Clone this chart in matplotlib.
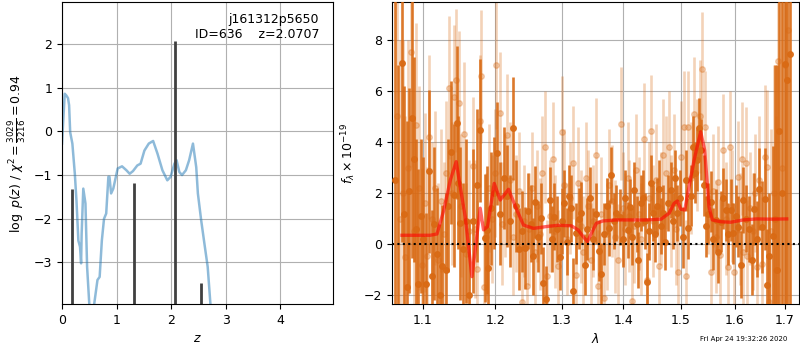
import numpy as np
import matplotlib
matplotlib.use('Agg')
import matplotlib.pyplot as plt
from matplotlib.ticker import FixedLocator, FixedFormatter, NullLocator, NullFormatter

# ---------------- data: redshift PDF ----------------
pz_z = [0.00, 0.05, 0.08, 0.11, 0.13, 0.15, 0.19, 0.235, 0.265, 0.30, 0.33, 0.35, 0.36,
        0.39, 0.43, 0.46, 0.50, 0.545, 0.59, 0.65, 0.69, 0.73, 0.77, 0.81, 0.85, 0.87,
        0.90, 0.94, 1.02, 1.10, 1.18, 1.24, 1.30, 1.38, 1.44, 1.51, 1.59, 1.67, 1.75,
        1.84, 1.93, 1.99, 2.06, 2.10, 2.15, 2.20, 2.27, 2.33, 2.40, 2.46, 2.49, 2.55,
        2.61, 2.67, 2.72, 2.78]
pz_logp = [-0.28, 0.86, 0.82, 0.76, 0.60, -0.02, -0.28, -0.97, -1.58, -2.50, -2.64, -3.02,
           -2.34, -1.31, -1.65, -3.10, -3.95, -4.40, -3.95, -3.40, -3.33, -2.50, -2.00,
           -1.88, -1.04, -1.04, -1.42, -1.31, -0.85, -0.80, -0.89, -0.97, -0.91, -0.78,
           -0.74, -0.44, -0.28, -0.22, -0.51, -0.89, -1.12, -1.04, -0.74, -0.66, -0.93,
           -1.00, -0.89, -0.66, -0.28, -0.82, -1.42, -2.03, -2.57, -3.10, -3.95, -4.60]
spike_z = [0.185, 1.327, 2.068, 2.545]
spike_top = [-1.33, -1.19, 2.06, -3.48]

# ---------------- data: 1D spectrum ----------------
# darker beam
wave_a = [1.0640, 1.0680, 1.0721, 1.0755, 1.0785, 1.0822, 1.0859, 1.0882, 1.0910, 1.0938,
          1.0975, 1.1005,
          1.1034, 1.1074, 1.1114, 1.1150, 1.1190, 1.1227, 1.1258, 1.1303, 1.1340, 1.1371,
          1.1418, 1.1453, 1.1480, 1.1508, 1.1541, 1.1590, 1.1633, 1.1681, 1.1737, 1.1784,
          1.1845, 1.1880, 1.1901, 1.1941, 1.1985, 1.2030, 1.2075, 1.2120, 1.2165, 1.2210,
          1.2256, 1.2300, 1.2345, 1.2390, 1.2440, 1.2485, 1.2525, 1.2559, 1.2594, 1.2635,
          1.2675, 1.2710, 1.2752, 1.2813, 1.2845, 1.2879, 1.2920, 1.2968, 1.3000, 1.3035,
          1.3075, 1.3105, 1.3140, 1.3177, 1.3229, 1.3265, 1.3309, 1.3363, 1.3405, 1.3454,
          1.3500, 1.3545, 1.3590, 1.3627, 1.3680, 1.3720, 1.3763, 1.3791, 1.3835, 1.3876,
          1.3943, 1.3985, 1.4030, 1.4073, 1.4112, 1.4150, 1.4185, 1.4225, 1.4254, 1.4290,
          1.4328, 1.4370, 1.4404, 1.4440, 1.4470, 1.4502, 1.4545, 1.4580, 1.4618, 1.4650,
          1.4678, 1.4720, 1.4770, 1.4818, 1.4860, 1.4900, 1.4937, 1.4985, 1.5045, 1.5089,
          1.5130, 1.5180, 1.5227, 1.5265, 1.5300, 1.5332, 1.5375, 1.5420, 1.5465, 1.5505,
          1.5548, 1.5600, 1.5645, 1.5690, 1.5736, 1.5783, 1.5830, 1.5880, 1.5926, 1.5970,
          1.6020, 1.6072, 1.6120, 1.6169, 1.6230, 1.6287, 1.6335, 1.6380, 1.6430, 1.6485,
          1.6545, 1.6599, 1.6640, 1.6677, 1.6752, 1.6800, 1.6845, 1.6886, 1.6940, 1.7000,
          1.7047, 1.7105]
flux_a = [2.50, -3.00, 7.10, 1.20, -1.68, 2.10, 4.95, 3.32, 0.60, -1.56,
          1.10, 0.20,
          -1.56, 2.85, -1.26, 0.80, -0.40, -2.00, -0.85, -1.00, 1.50, 3.60,
          1.92, 4.76, 2.40, 0.82, -0.20, 0.90, -2.00, 0.91, 2.31, 4.46,
          0.23, 0.56, -0.94, 1.40, 2.00, 3.55, 1.20, 2.60, 1.90, 0.90,
          4.53, 1.50, -0.20, 0.50, -0.16, 1.30, 0.80, -0.48, 1.66, 0.30,
          1.01, -1.52, -2.15, 1.73, 0.20, 1.08, 0.60, -0.50, 0.90, 1.60,
          0.10, 1.90, 1.40, -1.85, 0.43, 1.00, 1.24, -0.80, 0.60, 1.82,
          0.20, 1.20, -0.25, -1.16, 0.40, 1.50, 0.62, 2.70, 0.90, 1.21,
          1.08, 0.20, 1.80, 0.56, 1.47, 0.30, 2.12, 0.80, -0.61, 1.60,
          1.80, 0.90, -1.46, 0.50, 2.40, 1.21, 0.40, 1.50, 2.18, 0.70,
          1.21, 0.10, 1.60, 2.12, 0.90, 2.60, 1.21, 1.80, 0.27, 2.50,
          0.62, 1.90, 3.81, 2.80, 3.29, 4.53, 3.70, 2.30, 0.70, 1.20,
          1.66, 0.20, 0.95, -0.30, 0.88, 1.80, 1.34, 0.40, 1.34, 0.43,
          1.10, 0.69, -0.80, 1.73, 1.00, 0.59, -0.60, 1.37, 0.20, 2.15,
          0.66, 1.76, -1.59, -0.48, 0.33, 1.00, -1.00, 4.42, 2.00, 7.06,
          6.44, 7.43]
err_a = [12.0, 10.0, 7.0, 5.0, 6.5, 4.0, 5.5, 4.0, 3.5, 4.5,
         3.0, 3.2,
         2.8, 3.2, 2.6, 3.0, 2.6, 2.8, 2.4, 3.0, 2.6, 2.8,
         2.8, 3.0, 2.6, 3.0, 2.6, 3.2, 3.0, 2.8, 3.0, 2.8,
         2.5, 2.5, 2.4, 2.2, 2.2, 2.0, 2.0, 2.0, 2.0, 1.8,
         2.0, 1.8, 1.6, 1.6, 1.6, 1.5, 1.5, 1.5, 1.4, 1.4,
         1.4, 1.4, 1.3, 1.3, 1.3, 1.3, 1.3, 1.3, 1.3, 1.3,
         1.3, 1.2, 1.3, 1.3, 1.2, 1.2, 1.2, 1.2, 1.2, 1.2,
         1.2, 1.2, 1.2, 1.2, 1.2, 1.1, 1.1, 1.1, 1.1, 1.1,
         1.1, 1.1, 1.1, 1.1, 1.1, 1.1, 1.1, 1.1, 1.1, 1.1,
         1.1, 1.1, 1.1, 1.1, 1.1, 1.1, 1.1, 1.1, 1.1, 1.1,
         1.1, 1.1, 1.1, 1.1, 1.1, 1.1, 1.1, 1.1, 1.2, 1.2,
         1.2, 1.2, 1.2, 1.2, 1.2, 1.2, 1.2, 1.2, 1.2, 1.2,
         1.2, 1.2, 1.2, 1.2, 1.2, 1.2, 1.2, 1.2, 1.2, 1.2,
         1.2, 1.2, 1.3, 1.3, 1.3, 1.3, 1.4, 1.4, 1.5, 1.6,
         1.8, 2.0, 2.2, 2.5, 3.5, 6.0, 8.0, 9.0, 10.0, 10.0,
         12.0, 12.0]

# lighter beam
wave_b = [1.0660, 1.0700,
          1.0740, 1.0770, 1.0805, 1.0846, 1.0880, 1.0908, 1.0950, 1.0985, 1.1021, 1.1050,
          1.1083, 1.1120, 1.1160, 1.1200, 1.1240, 1.1280, 1.1315, 1.1350, 1.1385, 1.1416,
          1.1449, 1.1488, 1.1520, 1.1550, 1.1590, 1.1630, 1.1681, 1.1710, 1.1737, 1.1774,
          1.1797, 1.1831, 1.1870, 1.1910, 1.1950, 1.1990, 1.2014, 1.2062, 1.2100, 1.2140,
          1.2171, 1.2215, 1.2255, 1.2300, 1.2345, 1.2389, 1.2425, 1.2464, 1.2500, 1.2540,
          1.2580, 1.2620, 1.2660, 1.2700, 1.2741, 1.2767, 1.2810, 1.2859, 1.2900, 1.2935,
          1.2999, 1.3040, 1.3080, 1.3120, 1.3182, 1.3225, 1.3260, 1.3300, 1.3340, 1.3380,
          1.3420, 1.3460, 1.3500, 1.3541, 1.3575, 1.3620, 1.3678, 1.3720, 1.3760, 1.3800,
          1.3850, 1.3908, 1.3950, 1.3990, 1.4030, 1.4070, 1.4100, 1.4139, 1.4180, 1.4220,
          1.4260, 1.4300, 1.4355, 1.4396, 1.4430, 1.4466, 1.4510, 1.4550, 1.4602, 1.4640,
          1.4688, 1.4730, 1.4791, 1.4830, 1.4870, 1.4910, 1.4954, 1.5000, 1.5058, 1.5090,
          1.5126, 1.5180, 1.5240, 1.5290, 1.5340, 1.5390, 1.5450, 1.5500, 1.5550, 1.5600,
          1.5650, 1.5692, 1.5730, 1.5776, 1.5830, 1.5880, 1.5920, 1.5960, 1.5999, 1.6063,
          1.6100, 1.6136, 1.6170, 1.6216, 1.6250, 1.6300, 1.6350, 1.6400, 1.6440, 1.6486,
          1.6530, 1.6588, 1.6645, 1.6670, 1.6720, 1.6770, 1.6820, 1.6866, 1.6930, 1.6993,
          1.7060]
flux_b = [5.00, 1.00,
          2.00, -0.50, 3.00, 7.54, 0.50, 4.65, 2.20, -0.80, 1.63, -0.48,
          4.20, 1.00, 2.20, -0.60, 1.70, 0.40, 2.80, 6.12, 2.00, 5.76,
          6.41, 5.54, 1.50, 4.33, -0.40, 0.50, 3.07, 0.60, -0.98, 4.82,
          6.57, -1.68, 0.30, 2.20, 1.00, 2.80, 7.00, 5.14, 0.80, 1.90,
          4.27, 2.50, 0.30, 1.20, 2.10, -2.28, 0.90, -1.63, 0.60, 2.20,
          -0.30, 1.50, 0.40, 2.80, 3.81, -1.24, 1.10, 3.35, 0.50, -0.87,
          4.40, 2.30, 0.20, 1.80, 3.19, -1.20, 2.40, 0.70, -0.30, 2.60,
          1.50, -0.60, 0.90, 3.51, -1.63, 1.20, -2.10, 0.40, 2.30, 1.70,
          0.30, -0.61, 4.72, 1.40, 0.60, 2.60, 1.10, -2.24, 0.70, 2.90,
          1.20, 0.20, 4.10, -1.39, 1.80, 4.42, 0.90, 2.50, -0.87, 1.40,
          3.49, 2.80, 3.81, 1.30, 2.90, 0.60, -1.07, 3.40, 4.59, -1.26,
          4.59, 2.60, 5.11, 3.50, 5.00, 6.87, 4.59, 1.80, -1.10, 2.10,
          0.30, 2.44, -0.42, 3.68, 1.00, -0.90, 3.81, 1.50, -1.07, 2.64,
          0.60, 3.35, -0.30, 3.16, -0.46, 1.40, 0.50, 2.00, -0.90, 2.51,
          -0.77, 3.42, 3.03, -2.28, 0.50, 2.00, -1.00, 7.16, 3.00, 7.00,
          8.40]
err_b = [8.0, 7.0,
         6.0, 5.5, 5.0, 4.5, 4.5, 4.0, 4.0, 3.8, 3.5, 3.5,
         3.2, 3.0, 3.0, 3.0, 2.8, 2.8, 2.8, 2.8, 2.8, 2.8,
         2.8, 2.8, 2.8, 2.8, 2.8, 2.8, 2.7, 2.7, 2.7, 2.6,
         2.6, 2.6, 2.5, 2.5, 2.5, 2.5, 2.5, 2.4, 2.4, 2.4,
         2.4, 2.3, 2.3, 2.3, 2.3, 2.3, 2.2, 2.2, 2.2, 2.2,
         2.2, 2.2, 2.2, 2.2, 2.2, 2.2, 2.2, 2.2, 2.2, 2.2,
         2.2, 2.2, 2.2, 2.2, 2.2, 2.2, 2.2, 2.2, 2.2, 2.2,
         2.2, 2.2, 2.2, 2.2, 2.2, 2.2, 2.2, 2.2, 2.2, 2.2,
         2.2, 2.2, 2.2, 2.2, 2.2, 2.2, 2.2, 2.2, 2.2, 2.2,
         2.2, 2.2, 2.2, 2.2, 2.2, 2.2, 2.2, 2.2, 2.2, 2.2,
         2.2, 2.2, 2.2, 2.2, 2.2, 2.2, 2.2, 2.2, 2.2, 2.2,
         2.2, 2.2, 2.2, 2.2, 2.2, 2.2, 2.2, 2.2, 2.2, 2.2,
         2.2, 2.2, 2.2, 2.2, 2.2, 2.2, 2.2, 2.2, 2.2, 2.2,
         2.2, 2.2, 2.2, 2.2, 2.2, 2.2, 2.3, 2.3, 2.4, 2.5,
         2.6, 2.8, 3.0, 3.2, 4.0, 5.0, 6.0, 8.0, 9.0, 10.0,
         12.0]

# best-fit model
model_wave = [1.0726, 1.1097, 1.1187, 1.1276, 1.1367, 1.1449, 1.1504, 1.1573, 1.1620, 1.1667,
              1.1714, 1.1784, 1.1831, 1.1888, 1.1984, 1.2071, 1.2192, 1.2315, 1.2413, 1.2563,
              1.2787, 1.2942, 1.3150, 1.3256, 1.3336, 1.3406, 1.3470, 1.3551, 1.3656, 1.3876,
              1.4099, 1.4385, 1.4647, 1.4788, 1.4878, 1.4937, 1.4998, 1.5070, 1.5148, 1.5240,
              1.5362, 1.5436, 1.5516, 1.5578, 1.5736, 1.5926, 1.6169, 1.6432, 1.6697, 1.7036]
model_flux = [0.35, 0.35, 0.40, 1.30, 2.50, 3.23, 2.25, 1.08, -0.09, -1.27,
              -0.22, 1.41, 0.56, 0.69, 2.38, 1.73, 2.15, 1.34, 0.75, 0.62,
              0.70, 0.74, 0.72, 0.56, 0.30, 0.10, 0.43, 0.82, 0.91, 0.95,
              0.95, 0.95, 0.98, 1.21, 1.60, 1.69, 1.37, 1.34, 2.25, 3.29,
              4.40, 3.68, 1.47, 0.95, 0.88, 0.86, 0.95, 0.99, 0.98, 0.99]

xtick_vals = [1.1, 1.2, 1.3, 1.4, 1.5, 1.6, 1.7]
xtick_labels = ['1.1', '1.2', '1.3', '1.4', '1.5', '1.6', '1.7']

# ---------------- figure ----------------
plt.rcParams['font.size'] = 9
fig = plt.figure(figsize=(8, 3.5), dpi=100)
ax1 = fig.add_axes([0.0775, 0.1314, 0.339, 0.863])
ax2 = fig.add_axes([0.49, 0.1314, 0.509, 0.863])

# left panel
ax1.plot(pz_z, pz_logp, color='C0', alpha=0.5, lw=1.8)
ax1.vlines(spike_z, -10, spike_top, color='0.25', lw=2.0)
ax1.set_xlim(0, 4.97)
ax1.set_ylim(-3.95, 2.96)
ax1.set_xticks([0, 1, 2, 3, 4])
ax1.set_yticks([-3, -2, -1, 0, 1, 2])
ax1.grid(True)
ax1.set_axisbelow(True)
ax1.set_xlabel('$z$')
ax1.set_ylabel(r'$\log\ p(z)$ / $\chi^2=\frac{3029}{3216}=0.94$')
ax1.text(0.948, 0.965, 'j161312p5650\nID=636    z=2.0707', ha='right', va='top',
         transform=ax1.transAxes, fontsize=9)

# right panel
dark = '#d96a14'
ax2.errorbar(wave_b, flux_b, yerr=err_b, fmt='o', color=dark, alpha=0.3,
             ms=4, elinewidth=1.9, capsize=0, zorder=2)
ax2.errorbar(wave_a, flux_a, yerr=err_a, fmt='o', color=dark, alpha=0.9,
             ms=4, elinewidth=1.9, capsize=0, zorder=3)
ax2.plot(model_wave, model_flux, color='red', alpha=0.6, lw=2.4, zorder=5)
ax2.axhline(0, color='k', ls=(0, (1, 1.6)), lw=1.5, zorder=6)
ax2.set_xscale('log')
ax2.set_xlim(1.0598, 1.7294)
ax2.set_ylim(-2.34, 9.48)
ax2.xaxis.set_major_locator(FixedLocator(xtick_vals))
ax2.xaxis.set_major_formatter(FixedFormatter(xtick_labels))
ax2.xaxis.set_minor_locator(NullLocator())
ax2.xaxis.set_minor_formatter(NullFormatter())
ax2.set_yticks([-2, 0, 2, 4, 6, 8])
ax2.grid(True)
ax2.set_axisbelow(True)
ax2.set_xlabel(r'$\lambda$')
ax2.set_ylabel(r'$f_\lambda\times10^{-19}$')

fig.text(0.9846, 0.031, 'Fri Apr 24 19:32:26 2020', ha='right', va='center', fontsize=5)

fig.savefig('out.png', dpi=100)
